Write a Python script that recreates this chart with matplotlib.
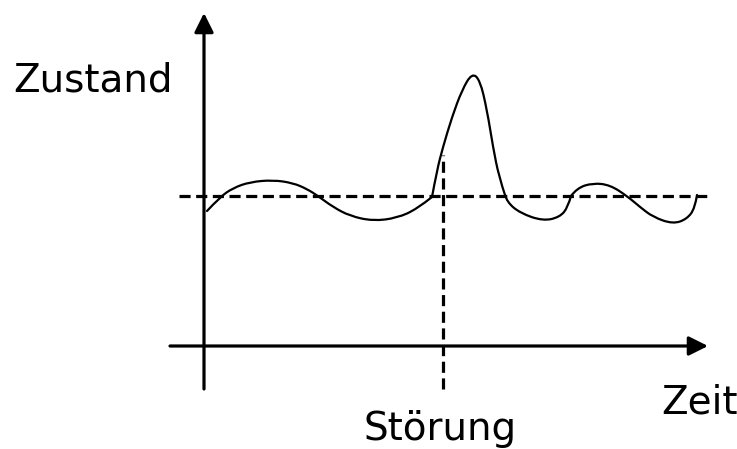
import matplotlib
matplotlib.use("Agg")
import matplotlib.pyplot as plt
from matplotlib.path import Path
from matplotlib.patches import PathPatch

# curve of the state over time
zeit = [0.06, 0.32, 0.58, 0.92, 1.38, 1.78, 2.06, 2.28, 2.58, 2.92, 3.38, 3.86,
        4.26, 4.56, 4.66, 4.78, 4.96, 5.16, 5.36, 5.52, 5.66, 5.78, 5.90, 6.02,
        6.06, 6.32, 6.78, 7.12, 7.28, 7.34, 7.46, 7.78, 8.12, 8.46, 8.72, 8.98,
        9.38, 9.66, 9.82, 9.86]
zustand = [2.70, 2.98, 3.16, 3.28, 3.32, 3.26, 3.14, 3.00, 2.78, 2.60, 2.50, 2.56,
           2.74, 2.98, 3.52, 3.98, 4.58, 5.12, 5.46, 5.32, 4.72, 3.98, 3.38, 3.02,
           2.88, 2.66, 2.50, 2.58, 2.78, 3.00, 3.16, 3.26, 3.22, 3.00, 2.78, 2.58,
           2.44, 2.54, 2.76, 3.02]
# indices where the sketch has a corner
knicke = [0, 13, 23, 29, 39]

gleichgewicht = 3.0      # dashed reference level
t_stoerung = 4.78        # time of the disturbance
stoerung_top = 3.82

x_achse = (-0.68, 10.08)
y_achse = (-0.86, 6.66)


def glatt(px, py):
    # quadratic b-spline through the read points, drawn by matplotlib
    verts = [(px[0], py[0])]
    codes = [Path.MOVETO]
    for i in range(1, len(px) - 1):
        verts.append((px[i], py[i]))
        if i < len(px) - 2:
            verts.append(((px[i] + px[i + 1]) / 2, (py[i] + py[i + 1]) / 2))
        else:
            verts.append((px[i + 1], py[i + 1]))
        codes += [Path.CURVE3, Path.CURVE3]
    return Path(verts, codes)


plt.rcParams["lines.scale_dashes"] = False

fig = plt.figure(figsize=(7.37, 4.49), dpi=100)
ax = fig.add_axes([0, 0, 1, 1])
ax.set_xlim(-4.08, 10.66)
ax.set_ylim(-2.06, 6.92)
ax.axis("off")

# axes with arrow heads
arrow = dict(arrowstyle="-|>,head_length=0.4,head_width=0.2", lw=2.3,
             color="black", mutation_scale=29, shrinkA=0, shrinkB=0)
ax.annotate("", xy=(x_achse[1], 0), xytext=(x_achse[0], 0), arrowprops=arrow)
ax.annotate("", xy=(0, y_achse[1]), xytext=(0, y_achse[0]), arrowprops=arrow)

# dashed lines
ax.plot([-0.5, 10.12], [gleichgewicht, gleichgewicht], color="black", lw=2.3,
        dashes=(8.0, 4.0))
ax.plot([t_stoerung, t_stoerung], [y_achse[0], stoerung_top], color="black",
        lw=2.3, dashes=(8.0, 4.0))

# state curve, smooth between the corners
for a, b in zip(knicke[:-1], knicke[1:]):
    p = glatt(zeit[a:b + 1], zustand[a:b + 1])
    ax.add_patch(PathPatch(p, fill=False, lw=1.6, color="black",
                           joinstyle="round", capstyle="round"))

ax.text(-3.82, 5.08, "Zustand", fontsize=28, ha="left", va="baseline")
ax.text(9.14, -1.36, "Zeit", fontsize=28, ha="left", va="baseline")
ax.text(4.72, -1.88, "Störung", fontsize=28, ha="center", va="baseline")

fig.savefig("out.png", dpi=100)
